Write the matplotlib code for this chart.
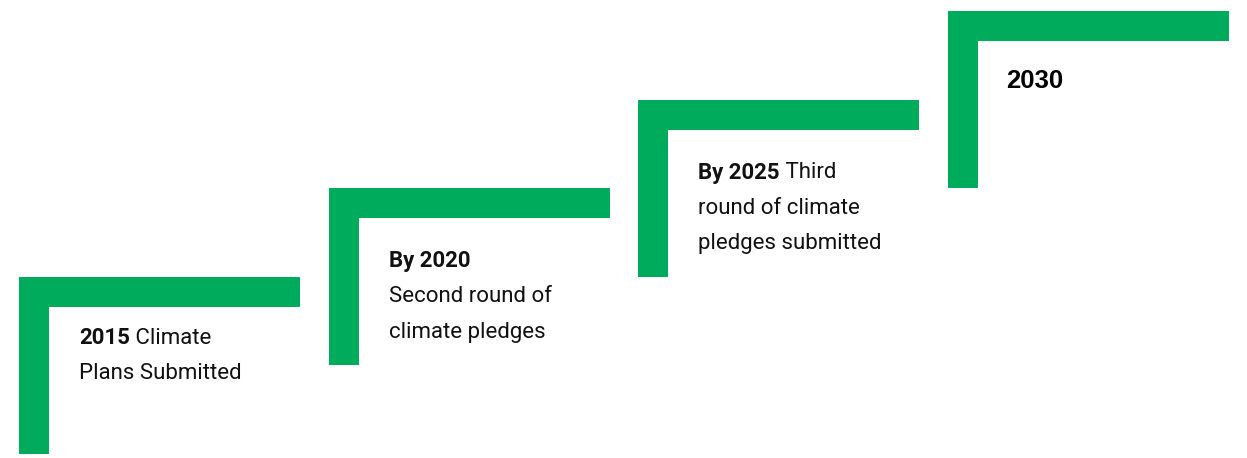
import matplotlib
matplotlib.use("Agg")
import matplotlib.pyplot as plt

# steps of the staircase (one L-shape per milestone)
steps = [0, 1, 2, 3]
bold_parts = ["2015", "By 2020", "By 2025", "2030"]
first_rest = [" Climate", "", " Third", ""]
more_lines = [["Plans Submitted"],
              ["Second round of", "climate pledges"],
              ["round of climate", "pledges submitted"],
              []]

green = "#00AB5C"
narrow = ["Liberation Sans Narrow", "Roboto", "DejaVu Sans"]

# layout in pixels
W, H = 1247, 458
x0, y0 = 19, 277          # top-left corner of first step
dx, dy = 309.7, 88.7      # shift per step
arm_len, thick, leg_len = 281, 30, 177
text_dx = 60
text_dy = [61, 73, 73, 70]
line_gap = 35.5

fig = plt.figure(figsize=(W / 100, H / 100), dpi=100)
ax = fig.add_axes([0, 0, 1, 1])
ax.set_xlim(0, W)
ax.set_ylim(H, 0)
ax.axis("off")

lefts = [x0 + s * dx for s in steps]
tops = [y0 - s * dy for s in steps]

# horizontal arms and vertical legs
ax.bar(lefts, [thick] * len(steps), width=arm_len, bottom=tops,
       align="edge", color=green, linewidth=0)
ax.bar(lefts, [leg_len] * len(steps), width=thick, bottom=tops,
       align="edge", color=green, linewidth=0)

for i, s in enumerate(steps):
    tx = lefts[i] + text_dx
    ty = tops[i] + text_dy[i]
    if s == 3:
        ax.text(tx - 2, ty, bold_parts[i], fontsize=18.5, fontweight="bold",
                family=["Liberation Sans", "DejaVu Sans"], va="center", ha="left")
        continue
    t = ax.text(tx, ty, bold_parts[i], fontsize=16, fontweight="bold",
                family=narrow, va="center", ha="left", color="#111111")
    if first_rest[i]:
        ax.annotate(first_rest[i], xy=(1, 0.5), xycoords=t, xytext=(0, 0),
                    textcoords="offset points", fontsize=16, family=narrow,
                    va="center", ha="left", color="#111111")
    for k, line in enumerate(more_lines[i]):
        ax.text(tx, ty + (k + 1) * line_gap, line, fontsize=16, family=narrow,
                va="center", ha="left", color="#111111")

fig.savefig("out.png", dpi=100)
